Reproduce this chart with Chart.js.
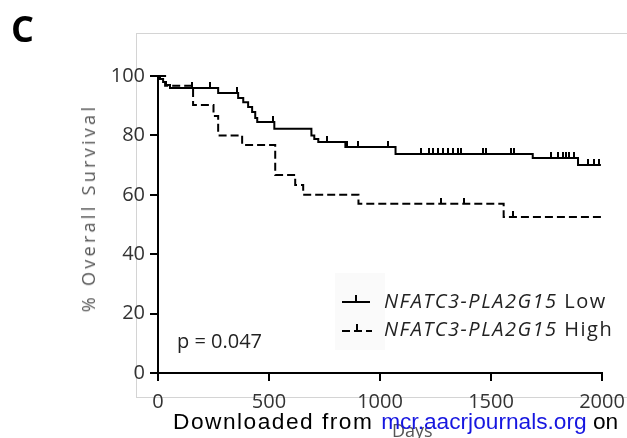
<!DOCTYPE html>
<html>
<head>
<meta charset="utf-8">
<script src="https://cdn.jsdelivr.net/npm/chart.js@4.4.1/dist/chart.umd.min.js"></script>
<style>
  body { margin: 0; background: #fff; }
  #wrap { position: relative; width: 627px; height: 438px; overflow: hidden; font-family: "Open Sans", sans-serif; }
  #frame { position: absolute; left: 136px; top: 33px; width: 520px; height: 363px;
           border-left: 1px solid #d4d4d4; border-top: 1px solid #d4d4d4; border-bottom: 1px solid #d4d4d4; }
  #legbox { position: absolute; left: 335px; top: 273px; width: 50px; height: 77px; background: #fafafa; }
  canvas { position: absolute; left: 0; top: 0; }
  .txt { position: absolute; white-space: nowrap; line-height: 1; }
  #panel { left: 11px; top: 11px; font-size: 36px; font-weight: bold; color: #000; }
  #ytitle { left: 88px; top: 208px; font-size: 18px; color: #555; letter-spacing: 3.3px;
            transform: translate(-50%, -50%) rotate(-90deg); }
  #pval { left: 177px; top: 331px; font-size: 20px; color: #222; }
  .leg { left: 384px; font-size: 20px; color: #222; letter-spacing: 1.5px; }
  #days { left: 392px; top: 421px; font-size: 18px; color: #555; }
  #mark { left: 173px; top: 410px; font-family: "Liberation Sans", Arial, sans-serif; font-size: 22.7px; color: #000; }
  #mark .pre { letter-spacing: 1.5px; }
  #mark .url { color: #1616e0; }
</style>
</head>
<body>
<div id="wrap">
  <div id="frame"></div>
  <div id="legbox"></div>
  <canvas id="km" width="627" height="438"></canvas>
  <div class="txt" id="panel">C</div>
  <div class="txt" id="ytitle">% Overall Survival</div>
  <div class="txt" id="pval">p = 0.047</div>
  <div class="txt leg" style="top:291px"><i>NFATC3-PLA2G15</i> Low</div>
  <div class="txt leg" style="top:319px"><i>NFATC3-PLA2G15</i> High</div>
  <div class="txt" id="days">Days</div>
  <div class="txt" id="mark"><span class="pre">Downloaded from </span><span class="url">mcr.aacrjournals.org</span> on</div>
</div>
<script>
// Kaplan-Meier steps (days, % surviving)
const lowDays = [0, 9, 23, 36, 54, 271, 361, 384, 406, 424, 438, 447, 524, 691, 704, 722, 844, 1070, 1688, 1892, 1995];
const lowSurv = [100, 99, 98, 97, 96, 94.3, 92.6, 91.2, 89.6, 87.9, 85.9, 84.5, 82.2, 80, 78.8, 77.8, 76.1, 73.7, 72.4, 70, 70];
const highDays = [0, 32, 158, 250, 271, 379, 528, 618, 654, 903, 1557, 2000];
const highSurv = [100, 96.7, 90.2, 86.5, 80, 76.8, 66.7, 63.3, 60, 57, 52.5, 52.5];

// censored observations (days)
const lowCensor = [153, 235, 357, 519, 763, 853, 903, 1038, 1183, 1219, 1237, 1260, 1282, 1305, 1327, 1350, 1363,
                   1463, 1476, 1589, 1603, 1770, 1801, 1824, 1837, 1851, 1874, 1937, 1964, 1986];
const highCensor = [1273, 1377, 1598];

const xTicks = [0, 500, 1000, 1500, 2000];
const yTicks = [0, 20, 40, 60, 80, 100];

function survAt(days, surv, t) {
    let v = surv[0];
    for (let i = 0; i < days.length; i++) {
        if (days[i] <= t) v = surv[i];
    }
    return v;
}

function toPoints(days, surv) {
    return days.map((d, i) => ({ x: d, y: surv[i] }));
}

// little upward tick used for censored points
const tick = document.createElement("canvas");
tick.width = 2;
tick.height = 12;
const tctx = tick.getContext("2d");
tctx.fillStyle = "#000";
tctx.fillRect(0, 0, 2, 6);

const legendSamples = {
    id: "legendSamples",
    afterDraw(chart) {
        const ctx = chart.ctx;
        ctx.save();
        ctx.strokeStyle = "#000";
        ctx.lineWidth = 2;
        ctx.beginPath();
        ctx.moveTo(342, 302); ctx.lineTo(370, 302);
        ctx.moveTo(356, 302); ctx.lineTo(356, 295);
        ctx.stroke();
        ctx.setLineDash([8, 4]);
        ctx.beginPath();
        ctx.moveTo(342, 331); ctx.lineTo(372, 331);
        ctx.stroke();
        ctx.setLineDash([]);
        ctx.beginPath();
        ctx.moveTo(357, 331); ctx.lineTo(357, 324);
        ctx.stroke();
        ctx.restore();
    }
};

new Chart(document.getElementById("km").getContext("2d"), {
    type: "scatter",
    data: {
        datasets: [
            {
                label: "Low",
                data: toPoints(lowDays, lowSurv),
                showLine: true,
                stepped: "before",
                borderColor: "#000",
                borderWidth: 2,
                pointRadius: 0,
                clip: false
            },
            {
                label: "High",
                data: toPoints(highDays, highSurv),
                showLine: true,
                stepped: "before",
                borderColor: "#000",
                borderWidth: 2,
                borderDash: [8, 4],
                pointRadius: 0,
                clip: false
            },
            {
                label: "Low censored",
                data: lowCensor.map(d => ({ x: d, y: survAt(lowDays, lowSurv, d) })),
                pointStyle: tick,
                showLine: false,
                clip: false
            },
            {
                label: "High censored",
                data: highCensor.map(d => ({ x: d, y: survAt(highDays, highSurv, d) })),
                pointStyle: tick,
                showLine: false,
                clip: false
            }
        ]
    },
    options: {
        responsive: false,
        animation: false,
        events: [],
        layout: { padding: { top: 76, right: 25, left: 0, bottom: 0 } },
        plugins: { legend: { display: false }, tooltip: { enabled: false } },
        scales: {
            x: {
                type: "linear",
                min: 0,
                max: 2000,
                afterFit(scale) {
                    scale.height = 65;
                    scale.paddingLeft = 0;
                    scale.paddingRight = 0;
                },
                afterBuildTicks(scale) { scale.ticks = xTicks.map(v => ({ value: v })); },
                border: { color: "#000", width: 2 },
                grid: { drawOnChartArea: false, drawTicks: true, tickLength: 8, color: "#000", lineWidth: 2 },
                ticks: { color: "#333", padding: 9, font: { family: "Open Sans", size: 20 }, callback: v => String(v) }
            },
            y: {
                min: 0,
                max: 100,
                afterFit(scale) {
                    scale.width = 158;
                    scale.paddingTop = 0;
                    scale.paddingBottom = 0;
                },
                afterBuildTicks(scale) { scale.ticks = yTicks.map(v => ({ value: v })); },
                border: { color: "#000", width: 2 },
                grid: { drawOnChartArea: false, drawTicks: true, tickLength: 8, color: "#000", lineWidth: 2 },
                ticks: { color: "#333", padding: 5, font: { family: "Open Sans", size: 20 }, callback: v => String(v) }
            }
        }
    },
    plugins: [legendSamples]
});
</script>
</body>
</html>
